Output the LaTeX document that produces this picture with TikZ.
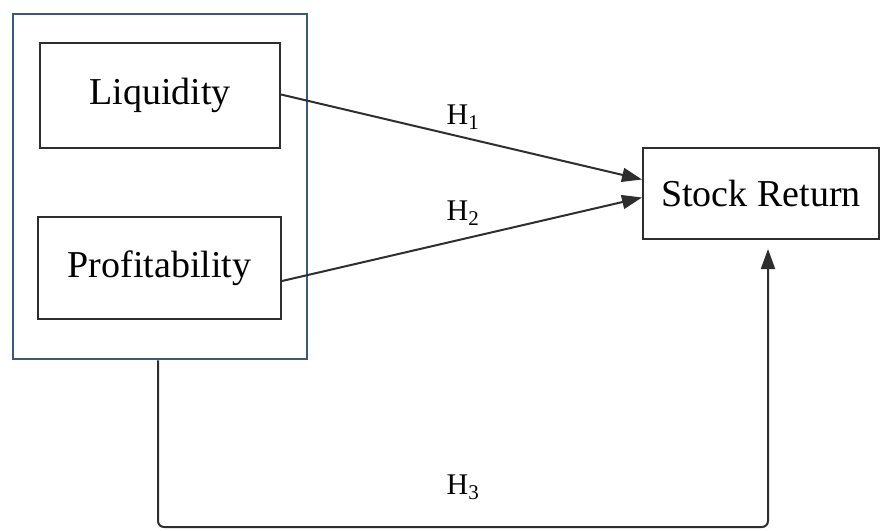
\documentclass[tikz,border=0pt]{standalone}
\usepackage{fontspec}
\setmainfont{Liberation Serif}
\usetikzlibrary{arrows.meta,calc}
\definecolor{outerblue}{HTML}{3A5A78}
\definecolor{linegray}{HTML}{2E2E2E}
\begin{document}
\begin{tikzpicture}[x=1pt,y=-1pt,
  box/.style={draw=linegray, line width=2pt, minimum width=#1, inner sep=0pt, font=\fontsize{38}{44}\selectfont},
  outerbox/.style={draw=outerblue, line width=2.6pt, inner sep=0pt},
  conn/.style={draw=linegray, line width=2pt, -{Triangle[length=20pt,width=14pt]}},
  hlab/.style={font=\fontsize{30}{34}\selectfont, inner sep=0pt}]
\useasboundingbox (0,0) rectangle (880,530);
\node[outerbox, minimum width=294pt, minimum height=345pt] (outer) at (160,186.5) {};
\node[box=240pt, minimum height=105pt] (liq) at (160,95.5) {Liquidity};
\node[box=243pt, minimum height=102pt] (prof) at (159.5,268) {Profitability};
\node[box=236pt, minimum height=91pt] (sr) at (761,193.5) {Stock Return};
\draw[conn] ($(liq.east)+(0,-1)$) -- ($(sr.west)+(0,-14)$);
\draw[conn] ($(prof.east)+(0,13)$) -- ($(sr.west)+(0,4)$);
\node[hlab] (h1) at (463,117) {H\textsubscript{1}};
\node[hlab] (h2) at (463,213) {H\textsubscript{2}};
\node[hlab] (h3) at (463,487) {H\textsubscript{3}};
\coordinate (bl) at (158,527);
\coordinate (br) at (768,527);
\draw[conn, rounded corners=6pt, shorten >=9pt] (outer.south -| bl) -- (bl) -- (br) -- (br |- sr.south);
\end{tikzpicture}
\end{document}
